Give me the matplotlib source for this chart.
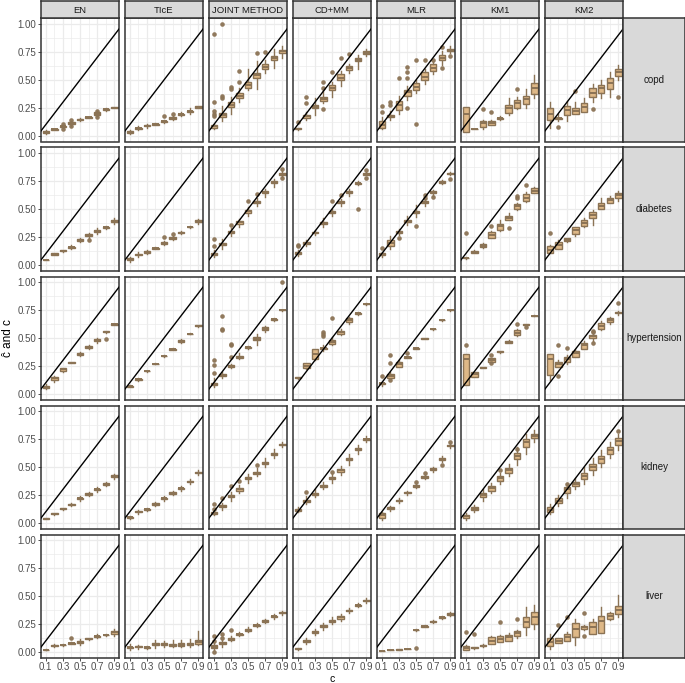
import matplotlib
matplotlib.use("Agg")
import matplotlib.pyplot as plt

plt.rcParams['font.family'] = ['Liberation Sans', 'DejaVu Sans']

# true proportion c on the x axis
C = [0.1, 0.2, 0.3, 0.4, 0.5, 0.6, 0.7, 0.8, 0.9]
METHODS = ["EN", "TIcE", "JOINT METHOD", "CD+MM", "MLR", "KM1", "KM2"]
DISEASES = ["copd", "diabetes", "hypertension", "kidney", "liver"]

# box stats per c: (whisker low, q1, median, q3, whisker high)
copd = {
    "EN": [(0.02, 0.03, 0.035, 0.04, 0.05), (0.05, 0.055, 0.058, 0.062, 0.065),
           (0.07, 0.078, 0.085, 0.09, 0.1), (0.09, 0.105, 0.112, 0.12, 0.13),
           (0.13, 0.14, 0.145, 0.15, 0.16), (0.16, 0.163, 0.166, 0.17, 0.172),
           (0.18, 0.19, 0.2, 0.21, 0.22), (0.225, 0.232, 0.237, 0.242, 0.25),
           (0.245, 0.25, 0.253, 0.256, 0.26)],
    "TIcE": [(0.02, 0.028, 0.033, 0.04, 0.05), (0.05, 0.062, 0.07, 0.075, 0.085),
             (0.075, 0.085, 0.092, 0.1, 0.11), (0.095, 0.1, 0.105, 0.11, 0.115),
             (0.115, 0.125, 0.13, 0.135, 0.145), (0.14, 0.155, 0.16, 0.165, 0.18),
             (0.175, 0.188, 0.195, 0.2, 0.215), (0.2, 0.215, 0.22, 0.226, 0.245),
             (0.245, 0.252, 0.258, 0.264, 0.27)],
    "JOINT METHOD": [(0.06, 0.075, 0.085, 0.095, 0.11), (0.13, 0.165, 0.185, 0.205, 0.27),
                     (0.2, 0.26, 0.275, 0.3, 0.35), (0.3, 0.34, 0.36, 0.385, 0.43),
                     (0.41, 0.43, 0.455, 0.48, 0.6), (0.42, 0.52, 0.54, 0.56, 0.67),
                     (0.56, 0.6, 0.62, 0.64, 0.68), (0.61, 0.68, 0.695, 0.71, 0.78),
                     (0.7, 0.745, 0.76, 0.77, 0.8)],
    "CD+MM": [(0.05, 0.058, 0.065, 0.07, 0.075), (0.14, 0.16, 0.175, 0.19, 0.21),
              (0.19, 0.245, 0.26, 0.275, 0.335), (0.29, 0.315, 0.33, 0.35, 0.4),
              (0.35, 0.41, 0.43, 0.455, 0.485), (0.45, 0.5, 0.515, 0.55, 0.58),
              (0.56, 0.59, 0.605, 0.625, 0.64), (0.6, 0.665, 0.68, 0.7, 0.72),
              (0.71, 0.735, 0.745, 0.76, 0.78)],
    "MLR": [(0.06, 0.07, 0.1, 0.13, 0.17), (0.14, 0.165, 0.175, 0.19, 0.22),
            (0.2, 0.23, 0.28, 0.31, 0.36), (0.32, 0.36, 0.39, 0.41, 0.45),
            (0.38, 0.41, 0.44, 0.47, 0.5), (0.46, 0.5, 0.53, 0.57, 0.6),
            (0.55, 0.58, 0.61, 0.64, 0.66), (0.63, 0.675, 0.695, 0.72, 0.76),
            (0.74, 0.76, 0.77, 0.78, 0.8)],
    "KM1": [(0.033, 0.033, 0.2, 0.256, 0.256), (0.058, 0.059, 0.06, 0.061, 0.062),
            (0.06, 0.077, 0.113, 0.137, 0.14), (0.095, 0.098, 0.119, 0.134, 0.14),
            (0.14, 0.152, 0.158, 0.163, 0.175), (0.19, 0.202, 0.247, 0.277, 0.335),
            (0.24, 0.247, 0.29, 0.32, 0.35), (0.25, 0.283, 0.327, 0.36, 0.415),
            (0.335, 0.375, 0.425, 0.47, 0.54)],
    "KM2": [(0.07, 0.143, 0.2, 0.247, 0.3), (0.13, 0.15, 0.158, 0.163, 0.2),
            (0.13, 0.1875, 0.232, 0.268, 0.31), (0.2, 0.2, 0.226, 0.247, 0.3),
            (0.21, 0.217, 0.262, 0.29, 0.34), (0.3, 0.345, 0.387, 0.425, 0.46),
            (0.34, 0.387, 0.425, 0.455, 0.5), (0.35, 0.417, 0.47, 0.515, 0.574),
            (0.5, 0.536, 0.574, 0.595, 0.63)],
}
copd_out = {
    "EN": [(0.3, 0.065), (0.3, 0.105), (0.4, 0.085), (0.4, 0.14), (0.7, 0.17), (0.7, 0.225)],
    "TIcE": [(0.5, 0.175), (0.6, 0.2)],
    "JOINT METHOD": [(0.1, 0.18), (0.1, 0.2), (0.1, 0.225), (0.1, 0.3), (0.1, 0.91),
                     (0.2, 0.34), (0.2, 0.355), (0.2, 1.0), (0.3, 0.42), (0.3, 0.44),
                     (0.4, 0.48), (0.4, 0.58), (0.6, 0.745), (0.7, 0.75)],
    "CD+MM": [(0.1, 0.125), (0.2, 0.29), (0.2, 0.35), (0.4, 0.24), (0.4, 0.43),
              (0.4, 0.48), (0.5, 0.575), (0.6, 0.7), (0.7, 0.73)],
    "MLR": [(0.1, 0.21), (0.1, 0.27), (0.2, 0.28), (0.2, 0.3), (0.3, 0.52),
            (0.4, 0.25), (0.4, 0.52), (0.4, 0.57), (0.4, 0.62), (0.5, 0.11),
            (0.5, 0.68), (0.6, 0.68), (0.7, 0.68), (0.8, 0.61), (0.8, 0.79), (0.9, 0.715)],
    "KM1": [(0.3, 0.238), (0.4, 0.214), (0.7, 0.42)],
    "KM2": [(0.2, 0.077), (0.4, 0.405), (0.6, 0.238), (0.9, 0.348)],
}

diabetes = {
    "EN": [(0.04, 0.041, 0.042, 0.044, 0.046), (0.085, 0.092, 0.098, 0.104, 0.11),
           (0.12, 0.125, 0.128, 0.131, 0.135), (0.14, 0.15, 0.157, 0.163, 0.175),
           (0.205, 0.215, 0.223, 0.23, 0.24), (0.24, 0.255, 0.265, 0.275, 0.29),
           (0.28, 0.295, 0.306, 0.315, 0.33), (0.32, 0.33, 0.336, 0.342, 0.35),
           (0.365, 0.385, 0.396, 0.405, 0.42)],
    "TIcE": [(0.03, 0.045, 0.054, 0.06, 0.07), (0.07, 0.085, 0.092, 0.1, 0.115),
             (0.1, 0.11, 0.116, 0.122, 0.135), (0.14, 0.146, 0.15, 0.154, 0.16),
             (0.18, 0.19, 0.196, 0.202, 0.21), (0.22, 0.235, 0.24, 0.246, 0.255),
             (0.275, 0.283, 0.288, 0.293, 0.3), (0.33, 0.335, 0.339, 0.343, 0.35),
             (0.37, 0.385, 0.396, 0.405, 0.415)],
    "JOINT METHOD": [(0.07, 0.09, 0.098, 0.105, 0.13), (0.14, 0.18, 0.19, 0.2, 0.235),
                     (0.26, 0.285, 0.294, 0.305, 0.33), (0.34, 0.37, 0.38, 0.39, 0.41),
                     (0.44, 0.465, 0.479, 0.49, 0.52), (0.53, 0.552, 0.562, 0.572, 0.6),
                     (0.61, 0.64, 0.65, 0.66, 0.68), (0.7, 0.728, 0.738, 0.748, 0.77),
                     (0.79, 0.8, 0.812, 0.825, 0.84)],
    "CD+MM": [(0.08, 0.1, 0.107, 0.115, 0.13), (0.17, 0.19, 0.196, 0.203, 0.22),
              (0.27, 0.283, 0.29, 0.297, 0.31), (0.34, 0.368, 0.375, 0.385, 0.42),
              (0.44, 0.462, 0.47, 0.478, 0.5), (0.53, 0.555, 0.562, 0.57, 0.59),
              (0.62, 0.642, 0.65, 0.658, 0.68), (0.71, 0.725, 0.73, 0.736, 0.75),
              (0.8, 0.807, 0.812, 0.818, 0.83)],
    "MLR": [(0.07, 0.09, 0.098, 0.105, 0.12), (0.14, 0.165, 0.196, 0.225, 0.255),
            (0.27, 0.287, 0.294, 0.3, 0.32), (0.36, 0.385, 0.396, 0.405, 0.435),
            (0.43, 0.46, 0.47, 0.48, 0.54), (0.53, 0.552, 0.56, 0.568, 0.59),
            (0.62, 0.642, 0.65, 0.658, 0.67), (0.72, 0.733, 0.74, 0.747, 0.76),
            (0.8, 0.81, 0.815, 0.82, 0.83)],
    "KM1": [(0.055, 0.058, 0.062, 0.066, 0.07), (0.105, 0.11, 0.116, 0.122, 0.13),
            (0.15, 0.16, 0.172, 0.19, 0.2), (0.24, 0.24, 0.265, 0.293, 0.3),
            (0.3, 0.315, 0.345, 0.37, 0.4), (0.4, 0.4, 0.42, 0.44, 0.46),
            (0.49, 0.5, 0.524, 0.545, 0.55), (0.56, 0.57, 0.6, 0.63, 0.65),
            (0.64, 0.645, 0.663, 0.687, 0.7)],
    "KM2": [(0.11, 0.11, 0.137, 0.165, 0.18), (0.14, 0.145, 0.18, 0.205, 0.22),
            (0.205, 0.21, 0.226, 0.24, 0.245), (0.26, 0.277, 0.31, 0.335, 0.34),
            (0.34, 0.345, 0.375, 0.402, 0.42), (0.36, 0.42, 0.443, 0.473, 0.495),
            (0.5, 0.5, 0.524, 0.553, 0.6), (0.55, 0.553, 0.58, 0.6, 0.62),
            (0.57, 0.6, 0.627, 0.642, 0.66)],
}
diabetes_out = {
    "EN": [(0.6, 0.22)],
    "TIcE": [(0.5, 0.246), (0.6, 0.276)],
    "JOINT METHOD": [(0.1, 0.166), (0.1, 0.235), (0.3, 0.354), (0.5, 0.574),
                     (0.6, 0.633), (0.9, 0.777), (0.9, 0.86)],
    "CD+MM": [(0.1, 0.165), (0.1, 0.18), (0.5, 0.568), (0.6, 0.627), (0.8, 0.502),
              (0.9, 0.777), (0.9, 0.85)],
    "MLR": [(0.1, 0.15), (0.3, 0.24), (0.5, 0.345), (0.6, 0.6), (0.6, 0.627),
            (0.7, 0.607), (0.9, 0.77)],
    "KM1": [(0.1, 0.29), (0.4, 0.345), (0.6, 0.33), (0.7, 0.6), (0.7, 0.62), (0.8, 0.717)],
    "KM2": [(0.1, 0.29)],
}

hypertension = {
    "EN": [(0.045, 0.055, 0.065, 0.075, 0.085), (0.11, 0.125, 0.14, 0.15, 0.16),
           (0.2, 0.21, 0.22, 0.23, 0.235), (0.275, 0.278, 0.28, 0.282, 0.285),
           (0.34, 0.35, 0.357, 0.365, 0.375), (0.4, 0.41, 0.416, 0.425, 0.44),
           (0.46, 0.47, 0.48, 0.488, 0.5), (0.545, 0.55, 0.556, 0.56, 0.565),
           (0.618, 0.621, 0.624, 0.627, 0.63)],
    "TIcE": [(0.06, 0.066, 0.071, 0.075, 0.08), (0.115, 0.125, 0.13, 0.137, 0.145),
             (0.2, 0.203, 0.205, 0.207, 0.21), (0.265, 0.268, 0.27, 0.272, 0.275),
             (0.335, 0.338, 0.34, 0.342, 0.345), (0.39, 0.396, 0.4, 0.405, 0.41),
             (0.455, 0.468, 0.475, 0.483, 0.495), (0.533, 0.536, 0.538, 0.54, 0.543),
             (0.6, 0.605, 0.61, 0.615, 0.62)],
    "JOINT METHOD": [(0.06, 0.08, 0.086, 0.095, 0.14), (0.14, 0.162, 0.17, 0.178, 0.2),
                     (0.23, 0.245, 0.25, 0.255, 0.27), (0.31, 0.325, 0.333, 0.343, 0.37),
                     (0.405, 0.411, 0.416, 0.42, 0.425), (0.44, 0.48, 0.49, 0.505, 0.54),
                     (0.555, 0.575, 0.585, 0.595, 0.61), (0.655, 0.662, 0.666, 0.67, 0.675),
                     (0.745, 0.748, 0.75, 0.752, 0.755)],
    "CD+MM": [(0.135, 0.14, 0.145, 0.15, 0.155), (0.22, 0.23, 0.25, 0.275, 0.28),
              (0.3, 0.31, 0.357, 0.4, 0.4), (0.38, 0.4, 0.407, 0.415, 0.44),
              (0.44, 0.445, 0.467, 0.48, 0.51), (0.53, 0.535, 0.556, 0.565, 0.58),
              (0.63, 0.64, 0.66, 0.68, 0.69), (0.71, 0.715, 0.72, 0.725, 0.73),
              (0.795, 0.8, 0.803, 0.806, 0.81)],
    "MLR": [(0.07, 0.085, 0.095, 0.1, 0.11), (0.14, 0.14, 0.16, 0.18, 0.2),
            (0.24, 0.245, 0.267, 0.285, 0.3), (0.32, 0.322, 0.327, 0.333, 0.34),
            (0.4, 0.403, 0.407, 0.411, 0.415), (0.488, 0.49, 0.494, 0.498, 0.5),
            (0.575, 0.577, 0.58, 0.583, 0.585), (0.655, 0.657, 0.66, 0.663, 0.665),
            (0.745, 0.747, 0.75, 0.753, 0.755)],
    "KM1": [(0.08, 0.08, 0.31, 0.357, 0.357), (0.148, 0.148, 0.178, 0.198, 0.2),
            (0.228, 0.23, 0.234, 0.238, 0.24), (0.29, 0.29, 0.303, 0.318, 0.32),
            (0.37, 0.372, 0.377, 0.382, 0.385), (0.455, 0.46, 0.467, 0.473, 0.48),
            (0.52, 0.53, 0.547, 0.57, 0.58), (0.615, 0.617, 0.62, 0.623, 0.625),
            (0.695, 0.697, 0.699, 0.701, 0.703)],
    "KM2": [(0.125, 0.168, 0.31, 0.357, 0.357), (0.237, 0.237, 0.267, 0.288, 0.3),
            (0.27, 0.29, 0.31, 0.333, 0.35), (0.33, 0.333, 0.363, 0.387, 0.4),
            (0.4, 0.405, 0.434, 0.458, 0.47), (0.47, 0.5, 0.517, 0.53, 0.54),
            (0.57, 0.577, 0.607, 0.637, 0.65), (0.63, 0.64, 0.66, 0.68, 0.69),
            (0.71, 0.72, 0.728, 0.735, 0.745)],
}
hypertension_out = {
    "EN": [(0.8, 0.49)],
    "JOINT METHOD": [(0.1, 0.184), (0.1, 0.26), (0.1, 0.3), (0.2, 0.57), (0.2, 0.585),
                     (0.2, 0.696), (0.3, 0.333), (0.3, 0.44), (0.3, 0.45), (0.9, 1.0)],
    "CD+MM": [(0.4, 0.52), (0.4, 0.535), (0.4, 0.555), (0.5, 0.68)],
    "MLR": [(0.1, 0.16), (0.2, 0.124), (0.2, 0.28), (0.2, 0.347), (0.4, 0.363)],
    "KM1": [(0.1, 0.434), (0.4, 0.275), (0.4, 0.347), (0.7, 0.624), (0.8, 0.6)],
    "KM2": [(0.2, 0.16), (0.2, 0.434), (0.3, 0.41), (0.6, 0.457), (0.6, 0.55),
            (0.6, 0.565), (0.9, 0.809)],
}

kidney = {
    "EN": [(0.035, 0.038, 0.04, 0.043, 0.046), (0.07, 0.078, 0.082, 0.086, 0.09),
           (0.12, 0.125, 0.128, 0.132, 0.135), (0.15, 0.157, 0.162, 0.167, 0.175),
           (0.2, 0.212, 0.22, 0.228, 0.24), (0.24, 0.252, 0.26, 0.268, 0.28),
           (0.28, 0.292, 0.3, 0.308, 0.32), (0.33, 0.343, 0.35, 0.357, 0.37),
           (0.39, 0.41, 0.42, 0.43, 0.44)],
    "TIcE": [(0.04, 0.045, 0.05, 0.055, 0.06), (0.085, 0.095, 0.1, 0.105, 0.115),
             (0.11, 0.117, 0.122, 0.127, 0.135), (0.15, 0.163, 0.17, 0.177, 0.19),
             (0.2, 0.212, 0.22, 0.228, 0.24), (0.25, 0.263, 0.27, 0.277, 0.29),
             (0.29, 0.303, 0.31, 0.317, 0.33), (0.35, 0.363, 0.37, 0.377, 0.39),
             (0.43, 0.443, 0.45, 0.457, 0.47)],
    "JOINT METHOD": [(0.07, 0.085, 0.09, 0.1, 0.11), (0.12, 0.14, 0.15, 0.16, 0.18),
                     (0.2, 0.23, 0.24, 0.25, 0.28), (0.27, 0.29, 0.3, 0.31, 0.34),
                     (0.36, 0.39, 0.4, 0.41, 0.44), (0.42, 0.44, 0.45, 0.46, 0.49),
                     (0.5, 0.53, 0.54, 0.55, 0.58), (0.58, 0.61, 0.62, 0.63, 0.66),
                     (0.68, 0.695, 0.7, 0.705, 0.72)],
    "CD+MM": [(0.1, 0.11, 0.12, 0.13, 0.14), (0.17, 0.19, 0.2, 0.21, 0.24),
              (0.23, 0.25, 0.26, 0.27, 0.3), (0.3, 0.32, 0.33, 0.34, 0.37),
              (0.36, 0.39, 0.4, 0.41, 0.44), (0.43, 0.46, 0.47, 0.48, 0.51),
              (0.52, 0.56, 0.57, 0.58, 0.62), (0.62, 0.65, 0.66, 0.67, 0.7),
              (0.72, 0.745, 0.75, 0.755, 0.78)],
    "MLR": [(0.03, 0.045, 0.07, 0.09, 0.1), (0.11, 0.125, 0.13, 0.14, 0.15),
            (0.18, 0.195, 0.2, 0.21, 0.22), (0.25, 0.265, 0.27, 0.28, 0.29),
            (0.31, 0.325, 0.33, 0.34, 0.35), (0.39, 0.405, 0.41, 0.42, 0.43),
            (0.46, 0.475, 0.48, 0.49, 0.5), (0.55, 0.565, 0.57, 0.58, 0.6),
            (0.67, 0.685, 0.69, 0.7, 0.71)],
    "KM1": [(0.03, 0.045, 0.06, 0.075, 0.09), (0.1, 0.12, 0.13, 0.14, 0.16),
            (0.2, 0.23, 0.25, 0.27, 0.3), (0.27, 0.29, 0.31, 0.33, 0.36),
            (0.35, 0.38, 0.4, 0.42, 0.45), (0.42, 0.45, 0.47, 0.49, 0.53),
            (0.52, 0.57, 0.6, 0.63, 0.68), (0.62, 0.68, 0.72, 0.75, 0.8),
            (0.72, 0.76, 0.78, 0.8, 0.83)],
    "KM2": [(0.08, 0.1, 0.12, 0.14, 0.17), (0.15, 0.18, 0.2, 0.22, 0.25),
            (0.22, 0.27, 0.3, 0.32, 0.36), (0.3, 0.33, 0.35, 0.37, 0.4),
            (0.35, 0.39, 0.42, 0.45, 0.5), (0.43, 0.47, 0.5, 0.53, 0.58),
            (0.5, 0.54, 0.57, 0.6, 0.65), (0.58, 0.62, 0.65, 0.68, 0.72),
            (0.65, 0.7, 0.73, 0.76, 0.8)],
}
kidney_out = {
    "JOINT METHOD": [(0.1, 0.13), (0.1, 0.17), (0.2, 0.22), (0.3, 0.33), (0.4, 0.38),
                     (0.6, 0.52)],
    "CD+MM": [(0.2, 0.28), (0.5, 0.46)],
    "MLR": [(0.5, 0.37), (0.6, 0.45), (0.8, 0.52), (0.9, 0.72)],
    "KM1": [(0.5, 0.47), (0.7, 0.66)],
    "KM2": [(0.3, 0.35), (0.9, 0.82)],
}

liver = {
    "EN": [(0.015, 0.018, 0.02, 0.022, 0.025), (0.045, 0.052, 0.058, 0.062, 0.07),
           (0.058, 0.061, 0.064, 0.067, 0.07), (0.07, 0.076, 0.08, 0.084, 0.09),
           (0.06, 0.08, 0.088, 0.1, 0.115), (0.11, 0.114, 0.118, 0.122, 0.126),
           (0.125, 0.135, 0.14, 0.145, 0.16), (0.145, 0.15, 0.153, 0.156, 0.16),
           (0.14, 0.165, 0.177, 0.19, 0.21)],
    "TIcE": [(0.02, 0.035, 0.043, 0.05, 0.07), (0.03, 0.045, 0.05, 0.055, 0.06),
             (0.03, 0.038, 0.043, 0.048, 0.055), (0.04, 0.06, 0.073, 0.085, 0.11),
             (0.045, 0.06, 0.073, 0.08, 0.1), (0.045, 0.055, 0.064, 0.075, 0.11),
             (0.045, 0.055, 0.064, 0.08, 0.11), (0.045, 0.06, 0.073, 0.085, 0.12),
             (0.065, 0.075, 0.094, 0.11, 0.19)],
    "JOINT METHOD": [(0.02, 0.04, 0.05, 0.06, 0.08), (0.05, 0.07, 0.08, 0.09, 0.11),
                     (0.1, 0.11, 0.12, 0.125, 0.14), (0.14, 0.15, 0.16, 0.165, 0.18),
                     (0.18, 0.19, 0.2, 0.205, 0.22), (0.22, 0.23, 0.24, 0.245, 0.26),
                     (0.26, 0.27, 0.28, 0.285, 0.3), (0.3, 0.31, 0.32, 0.325, 0.34),
                     (0.33, 0.345, 0.35, 0.355, 0.37)],
    "CD+MM": [(0.02, 0.025, 0.03, 0.035, 0.04), (0.07, 0.09, 0.1, 0.11, 0.13),
              (0.15, 0.17, 0.18, 0.19, 0.21), (0.2, 0.22, 0.23, 0.24, 0.26),
              (0.25, 0.27, 0.28, 0.29, 0.31), (0.28, 0.3, 0.31, 0.32, 0.34),
              (0.35, 0.365, 0.37, 0.375, 0.39), (0.4, 0.415, 0.42, 0.425, 0.44),
              (0.44, 0.455, 0.46, 0.465, 0.48)],
    "MLR": [(0.008, 0.009, 0.01, 0.011, 0.012), (0.015, 0.016, 0.017, 0.018, 0.02),
            (0.021, 0.022, 0.023, 0.024, 0.025), (0.028, 0.029, 0.03, 0.031, 0.032),
            (0.19, 0.195, 0.198, 0.201, 0.205), (0.22, 0.226, 0.23, 0.234, 0.24),
            (0.26, 0.267, 0.272, 0.277, 0.285), (0.3, 0.305, 0.31, 0.315, 0.32),
            (0.32, 0.33, 0.34, 0.35, 0.36)],
    "KM1": [(0.02, 0.02, 0.035, 0.052, 0.06), (0.03, 0.034, 0.038, 0.042, 0.045),
            (0.05, 0.052, 0.058, 0.065, 0.07), (0.07, 0.07, 0.103, 0.133, 0.14),
            (0.088, 0.088, 0.118, 0.141, 0.15), (0.1, 0.103, 0.132, 0.154, 0.17),
            (0.13, 0.142, 0.17, 0.192, 0.2), (0.15, 0.228, 0.272, 0.31, 0.4),
            (0.21, 0.25, 0.31, 0.36, 0.42)],
    "KM2": [(0.03, 0.058, 0.094, 0.13, 0.16), (0.08, 0.082, 0.103, 0.124, 0.13),
            (0.1, 0.103, 0.132, 0.162, 0.18), (0.06, 0.132, 0.207, 0.258, 0.3),
            (0.2, 0.21, 0.22, 0.23, 0.24), (0.16, 0.163, 0.22, 0.273, 0.3),
            (0.17, 0.17, 0.28, 0.327, 0.4), (0.29, 0.3, 0.326, 0.345, 0.36),
            (0.31, 0.34, 0.38, 0.41, 0.51)],
}
liver_out = {
    "EN": [(0.4, 0.13)],
    "JOINT METHOD": [(0.1, 0.0), (0.1, 0.1), (0.1, 0.14), (0.2, 0.13), (0.2, 0.16), (0.3, 0.2)],
    "MLR": [(0.5, 0.038)],
    "KM1": [(0.1, 0.178), (0.2, 0.163), (0.5, 0.267), (0.7, 0.3)],
    "KM2": [(0.2, 0.242), (0.3, 0.31), (0.5, 0.147), (0.5, 0.347)],
}

BOXES = {"copd": copd, "diabetes": diabetes, "hypertension": hypertension,
         "kidney": kidney, "liver": liver}
OUTS = {"copd": copd_out, "diabetes": diabetes_out, "hypertension": hypertension_out,
        "kidney": kidney_out, "liver": liver_out}

W, H = 685, 683
FILL = "#DEB887"    # burlywood
EDGE = "#8B7355"    # burlywood4
GRID = "#EBEBEB"
DARK = "#333333"


def px(x, y, w, h):
    return [x / W, 1 - (y + h) / H, w / W, h / H]


fig = plt.figure(figsize=(W / 100, H / 100), dpi=100)

left0, colstep, pw = 41, 84, 78
top0, rowstep, ph = 18.4, 129.05, 123.1
right_edge = left0 + colstep * 6 + pw

for i, dis in enumerate(DISEASES):
    for j, m in enumerate(METHODS):
        ax = fig.add_axes(px(left0 + colstep * j, top0 + rowstep * i, pw, ph))
        outs = OUTS[dis].get(m, [])
        stats = []
        for c, (lo, q1, med, q3, hi) in zip(C, BOXES[dis][m]):
            fl = [v for cc, v in outs if abs(cc - c) < 1e-9]
            stats.append(dict(whislo=lo, q1=q1, med=med, q3=q3, whishi=hi, fliers=fl))
        ax.bxp(stats, positions=C, widths=0.075, patch_artist=True, showcaps=False,
               boxprops=dict(facecolor=FILL, edgecolor=EDGE, linewidth=1.0),
               medianprops=dict(color=EDGE, linewidth=1.4),
               whiskerprops=dict(color=EDGE, linewidth=1.0),
               flierprops=dict(marker="o", markersize=3.3, markerfacecolor=EDGE,
                               markeredgecolor="none", alpha=0.95),
               manage_ticks=False, zorder=2)
        ax.axline((0, 0), slope=1, color="black", linewidth=1.0, zorder=3)

        ax.set_xlim(0.045, 0.955)
        ax.set_ylim(-0.05, 1.05)
        ax.set_xticks([0.1, 0.3, 0.5, 0.7, 0.9])
        ax.set_xticks([0.2, 0.4, 0.6, 0.8], minor=True)
        ax.set_yticks([0, 0.25, 0.5, 0.75, 1.0])
        ax.set_yticks([0.125, 0.375, 0.625, 0.875], minor=True)
        ax.grid(True, which="major", color=GRID, linewidth=0.9, zorder=0)
        ax.grid(True, which="minor", color=GRID, linewidth=0.5, zorder=0)
        ax.set_axisbelow(True)
        for s in ax.spines.values():
            s.set_color(DARK)
            s.set_linewidth(1.1)
        ax.tick_params(which="minor", length=0)
        ax.tick_params(which="major", length=2.2, width=0.6, color=DARK,
                       labelsize=7.0, labelcolor="#4D4D4D", pad=1.0)
        if j == 0:
            ax.set_yticklabels(["0.00", "0.25", "0.50", "0.75", "1.00"])
        else:
            ax.tick_params(axis="y", length=0, labelleft=False)
        if i == len(DISEASES) - 1:
            ax.set_xticklabels(["0.1", "0.3", "0.5", "0.7", "0.9"])
        else:
            ax.tick_params(axis="x", length=0, labelbottom=False)

        # column strip on top
        if i == 0:
            sx = fig.add_axes(px(left0 + colstep * j, 1, pw, top0 - 1))
            sx.set_facecolor("#D9D9D9")
            sx.set_xticks([])
            sx.set_yticks([])
            for s in sx.spines.values():
                s.set_color(DARK)
                s.set_linewidth(1.1)
            sx.text(0.5, 0.47, m, ha="center", va="center", fontsize=6.8, color="#1A1A1A",
                    transform=sx.transAxes)

    # row strip on the right
    rx = fig.add_axes(px(right_edge, top0 + rowstep * i, W - right_edge, ph))
    rx.set_facecolor("#D9D9D9")
    rx.set_xticks([])
    rx.set_yticks([])
    for s in rx.spines.values():
        s.set_color(DARK)
        s.set_linewidth(1.1)
    rx.text(0.5, 0.5, dis, ha="center", va="center", fontsize=7, color="#1A1A1A",
            transform=rx.transAxes)

fig.text((left0 + right_edge) / 2 / W, -1.5 / H, "c",
         ha="center", va="bottom", fontsize=7.5)
fig.text(8 / W, 1 - 338 / H, "ĉ and c", ha="center", va="center",
         rotation=90, fontsize=8.5)

fig.savefig("out.png", dpi=100)
